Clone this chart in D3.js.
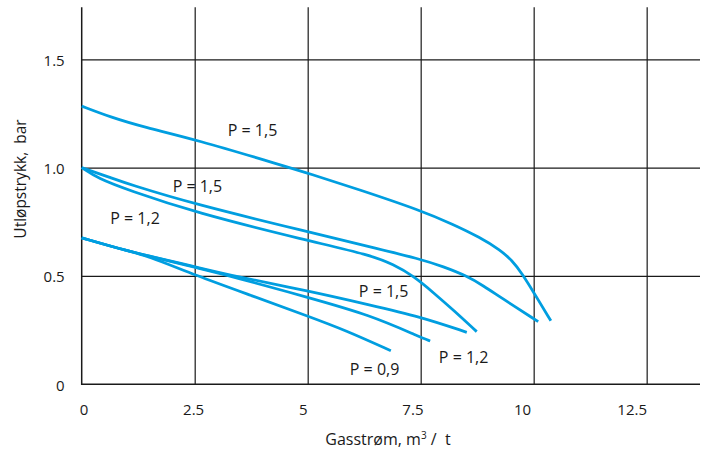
<!DOCTYPE html>
<html>
<head>
<meta charset="utf-8">
<script src="https://cdn.jsdelivr.net/npm/d3@7"></script>
<style>
  html, body { margin: 0; padding: 0; background: #fff; }
  svg { display: block; font-family: "Open Sans", "Noto Sans", sans-serif; }
</style>
</head>
<body>
<svg id="chart" width="707" height="455"></svg>
<script>
// ---- data ----
const xTicks = [0, 2.5, 5, 7.5, 10, 12.5];
const xTickLabels = ["0", "2.5", "5", "7.5", "10", "12.5"];
const yTicks = [0, 0.5, 1.0, 1.5];
const yTickLabels = ["0", "0.5", "1.0", "1.5"];

const seriesNames = ["A", "B", "C", "D", "E", "F"];
// P = 1,5 (upper)
const xA = [0, 0.65, 1.39, 2.5, 4.49, 5.0, 6.16, 7.49, 8.22, 8.81, 9.26, 9.52, 9.74, 9.99, 10.38];
const yA = [1.284, 1.232, 1.186, 1.131, 1.007, 0.975, 0.897, 0.803, 0.738, 0.678, 0.620, 0.572, 0.512, 0.428, 0.293];
// P = 1,5 (middle)
const xB = [0, 0.65, 1.02, 2.5, 5.0, 6.38, 7.49, 8.0, 8.52, 8.9, 9.25, 10.10];
const yB = [1.0, 0.953, 0.925, 0.831, 0.704, 0.635, 0.578, 0.543, 0.5, 0.453, 0.404, 0.289];
// P = 1,2 (middle)
const xC = [0, 0.36, 1.02, 2.5, 5.0, 6.38, 6.9, 7.34, 7.8, 8.22, 8.74];
const yC = [1.0, 0.95, 0.897, 0.793, 0.663, 0.597, 0.553, 0.5, 0.42, 0.343, 0.243];
// P = 1,5 (lower)
const xD = [0, 0.88, 1.47, 2.5, 3.35, 5.0, 6.38, 7.49, 8.52];
const yD = [0.676, 0.623, 0.593, 0.543, 0.5, 0.432, 0.366, 0.312, 0.24];
// P = 1,2 (lower)
const xE = [0, 0.88, 1.47, 2.5, 3.35, 5.0, 6.38, 7.5, 7.71];
const yE = [0.676, 0.623, 0.593, 0.540, 0.497, 0.401, 0.32, 0.217, 0.2];
// P = 0,9
const xF = [0, 0.88, 1.47, 2.5, 3.75, 5.0, 5.83, 6.84];
const yF = [0.676, 0.623, 0.593, 0.504, 0.41, 0.315, 0.25, 0.155];

const labelTexts = ["P = 1,5", "P = 1,5", "P = 1,2", "P = 1,5", "P = 1,2", "P = 0,9"];
const labelX = [3.78, 2.56, 1.18, 6.68, 8.45, 6.48];
const labelY = [1.147, 0.889, 0.740, 0.404, 0.097, 0.043];

const xTitle = "Gasstrøm, m";
const xTitleSup = "3";
const xTitleTail = " /  t";
const yTitle = "Utløpstrykk,  bar";

// ---- layout ----
const svg = d3.select("#chart");
const mLeft = 81.7, mRight = 700, mTop = 7.3, mBottom = 384.3;
const x = d3.scaleLinear().domain([0, 13.68]).range([mLeft, mRight]);
const y = d3.scaleLinear().domain([0, 1.74]).range([mBottom, mTop]);
const xLab = d3.scaleLinear().domain([0, 12.5]).range([83.5, 631.7]);

const ink = "#1a1a1a";
const blue = "#009ee0";

// vertical gridlines
svg.append("g")
  .attr("transform", `translate(0,${mBottom})`)
  .call(d3.axisBottom(x).tickValues(xTicks.slice(1)).tickSize(-(mBottom - mTop)).tickFormat(""))
  .call(g => g.select(".domain").remove())
  .call(g => g.selectAll("line").attr("stroke", ink).attr("stroke-width", 1.2));

// horizontal gridlines
svg.append("g")
  .attr("transform", `translate(${mLeft},0)`)
  .call(d3.axisLeft(y).tickValues(yTicks.slice(1)).tickSize(-(mRight - mLeft)).tickFormat(""))
  .call(g => g.select(".domain").remove())
  .call(g => g.selectAll("line").attr("stroke", ink).attr("stroke-width", 1.2));

// axis lines
svg.append("line").attr("x1", x(0)).attr("x2", x(0)).attr("y1", y(0) + 0.7).attr("y2", mTop)
  .attr("stroke", ink).attr("stroke-width", 1.5);
svg.append("line").attr("x1", x(0)).attr("x2", mRight).attr("y1", y(0)).attr("y2", y(0))
  .attr("stroke", ink).attr("stroke-width", 1.5);

// x tick labels
svg.append("g")
  .attr("transform", `translate(0,${mBottom})`)
  .call(d3.axisBottom(xLab).tickValues(xTicks).tickSize(0).tickPadding(20)
    .tickFormat((d, i) => xTickLabels[i]))
  .call(g => g.select(".domain").remove())
  .call(g => g.selectAll("text").attr("fill", ink).style("font-size", "15px")
    .style("font-family", '"Open Sans", sans-serif'));

// y tick labels
svg.append("g")
  .attr("transform", `translate(${mLeft},1)`)
  .call(d3.axisLeft(y).tickValues(yTicks).tickSize(0).tickPadding(17)
    .tickFormat((d, i) => yTickLabels[i]))
  .call(g => g.select(".domain").remove())
  .call(g => g.selectAll("text").attr("fill", ink).style("font-size", "15px")
    .style("font-family", '"Open Sans", sans-serif'));

// curves
const xs = [xA, xB, xC, xD, xE, xF];
const ys = [yA, yB, yC, yD, yE, yF];
const line = d3.line()
  .x(d => x(d[0])).y(d => y(d[1]))
  .curve(d3.curveBasis);
seriesNames.forEach((name, i) => {
  const pts = xs[i].map((v, j) => [v, ys[i][j]]);
  svg.append("path")
    .datum(pts)
    .attr("fill", "none")
    .attr("stroke", blue)
    .attr("stroke-width", 2.8)
    .attr("stroke-linejoin", "round")
    .attr("d", line);
});

// curve labels
svg.append("g").selectAll("text")
  .data(labelTexts)
  .join("text")
  .attr("x", (d, i) => x(labelX[i]))
  .attr("y", (d, i) => y(labelY[i]))
  .attr("text-anchor", "middle")
  .attr("fill", ink)
  .style("font-size", "16px")
  .text(d => d);

// axis titles
const xt = svg.append("text")
  .attr("x", 388).attr("y", 445)
  .attr("text-anchor", "middle")
  .attr("fill", ink)
  .style("font-size", "16px")
  .attr("xml:space", "preserve");
xt.append("tspan").text(xTitle);
xt.append("tspan").attr("dy", -6).style("font-size", "10px").text(xTitleSup);
xt.append("tspan").attr("dy", 6).text(xTitleTail);

svg.append("text")
  .attr("transform", "translate(26,179) rotate(-90)")
  .attr("text-anchor", "middle")
  .attr("fill", ink)
  .style("font-size", "15.5px")
  .attr("xml:space", "preserve")
  .text(yTitle);
</script>
</body>
</html>
